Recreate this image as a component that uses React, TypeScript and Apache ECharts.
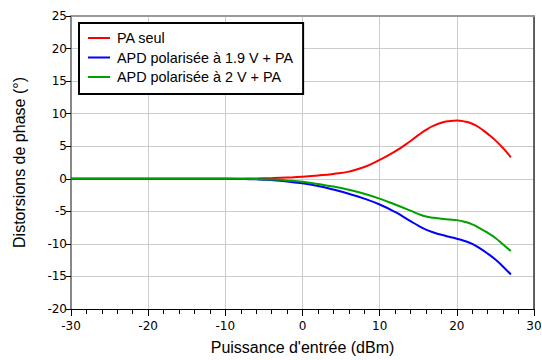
import React, { useEffect, useRef } from "react";
import * as echarts from "echarts";

const seriesNames = ["PA seul", "APD polarisée à 1.9 V + PA", "APD polarisée à 2 V + PA"];
const xValues = [-30, -25, -20, -15, -10, -8, -6, -4, -2, 0, 2, 4, 6, 8, 10, 12, 14, 15, 16, 17, 18, 19, 20, 21, 22, 23, 24, 25, 26, 27];
const paSeul = [0, 0, 0, 0, 0, 0.02, 0.05, 0.1, 0.18, 0.3, 0.5, 0.75, 1.1, 1.8, 2.9, 4.2, 5.8, 6.7, 7.5, 8.15, 8.6, 8.85, 8.95, 8.8, 8.45, 7.8, 6.9, 5.9, 4.7, 3.3];
const apd19 = [0, 0, 0, 0, 0, -0.02, -0.08, -0.2, -0.4, -0.7, -1.1, -1.65, -2.3, -3.05, -3.95, -5.1, -6.5, -7.2, -7.8, -8.25, -8.6, -8.9, -9.2, -9.55, -10.0, -10.7, -11.5, -12.4, -13.5, -14.7];
const apd2 = [0, 0, 0, 0, 0, -0.01, -0.05, -0.12, -0.25, -0.45, -0.8, -1.2, -1.7, -2.3, -3.05, -3.95, -4.9, -5.4, -5.8, -6.0, -6.15, -6.25, -6.35, -6.6, -7.0, -7.6, -8.3, -9.1, -10.1, -11.1];
const seriesValues = [paSeul, apd19, apd2];
const seriesColors = ["#ff0000", "#0000ff", "#00a000"];

const xMin = -30, xMax = 30, xStep = 10;
const yMin = -20, yMax = 25, yStep = 5;
const xTitle = "Puissance d'entrée (dBm)";
const yTitle = "Distorsions de phase (°)";

export default function App() {
  const ref = useRef<HTMLDivElement>(null);
  useEffect(() => {
    if (!ref.current) return;
    const chart = echarts.init(ref.current, null, { renderer: "svg" });
    const tickFont = "DejaVu Sans";
    const textFont = "Liberation Sans";
    chart.setOption({
      animation: false,
      backgroundColor: "#ffffff",
      grid: { left: 71, right: 8, top: 16, bottom: 51, containLabel: false, outerBoundsMode: "none" },
      legend: {
        data: seriesNames,
        orient: "vertical",
        left: 79,
        top: 23,
        padding: [8, 10, 10, 9],
        itemWidth: 22,
        itemHeight: 2,
        itemGap: 5.5,
        icon: "rect",
        borderColor: "#000",
        borderWidth: 2,
        backgroundColor: "#ffffff",
        textStyle: { fontFamily: textFont, fontSize: 14.4, color: "#000", padding: [0, 0, 0, 2] },
      },
      xAxis: [
        {
          type: "value",
          min: xMin,
          max: xMax,
          interval: xStep,
          name: xTitle,
          nameLocation: "middle",
          nameGap: 30,
          nameTextStyle: { fontFamily: textFont, fontSize: 16, color: "#000" },
          axisLine: { show: true, onZero: false, lineStyle: { color: "#000", width: 1 } },
          axisTick: { show: true, length: 7, lineStyle: { color: "#000" } },
          minorTick: { show: true, splitNumber: 5, length: 5, lineStyle: { color: "#000" } },
          axisLabel: { fontFamily: tickFont, fontSize: 12, color: "#000", margin: 11 },
          splitLine: { show: true, lineStyle: { color: "#cccccc", width: 1 } },
        },
        {
          type: "value",
          position: "top",
          min: xMin,
          max: xMax,
          axisLine: { show: true, onZero: false, lineStyle: { color: "#999", width: 2 } },
          axisTick: { show: false },
          axisLabel: { show: false },
          splitLine: { show: false },
        },
      ],
      yAxis: [
        {
          type: "value",
          min: yMin,
          max: yMax,
          interval: yStep,
          name: yTitle,
          nameLocation: "middle",
          nameGap: 44,
          nameRotate: 90,
          nameTextStyle: { fontFamily: textFont, fontSize: 16, color: "#000" },
          axisLine: { show: true, onZero: false, lineStyle: { color: "#888", width: 2 } },
          axisTick: { show: true, length: 5, lineStyle: { color: "#000" } },
          axisLabel: { fontFamily: tickFont, fontSize: 12, color: "#000", margin: 4 },
          splitLine: { show: true, lineStyle: { color: "#cccccc", width: 1 } },
        },
        {
          type: "value",
          position: "right",
          min: yMin,
          max: yMax,
          axisLine: { show: true, onZero: false, lineStyle: { color: "#333", width: 1.5 } },
          axisTick: { show: false },
          axisLabel: { show: false },
          splitLine: { show: false },
        },
      ],
      series: seriesNames.map((name, i) => ({
        name,
        type: "line",
        smooth: true,
        showSymbol: false,
        symbol: "none",
        data: xValues.map((x, j) => [x, seriesValues[i][j]]),
        lineStyle: { color: seriesColors[i], width: 2 },
        itemStyle: { color: seriesColors[i] },
        z: 3,
      })),
    });
    return () => chart.dispose();
  }, []);
  return <div ref={ref} style={{ position: "absolute", left: 0, top: 0, width: 542, height: 360 }} />;
}
